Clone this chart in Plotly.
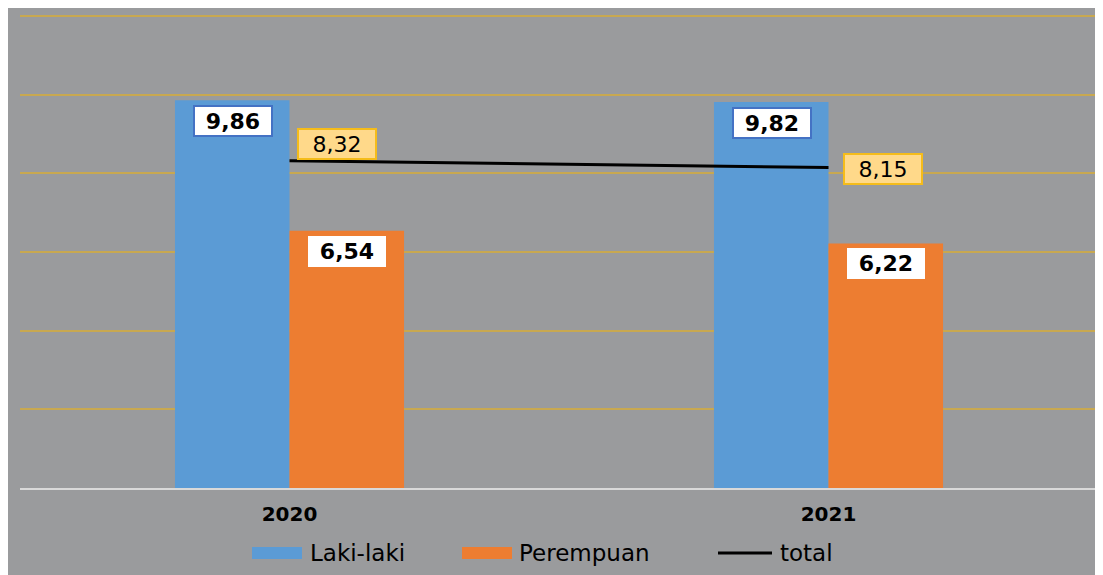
import plotly.graph_objects as go

years = ["2020", "2021"]
laki = [9.86, 9.82]
perempuan = [6.54, 6.22]
total = [8.32, 8.15]
series_names = ["Laki-laki", "Perempuan", "total"]

def fmt(v):
    return f"{v:.2f}".replace(".", ",")

BG = "#9a9b9d"
BLUE = "#5b9bd5"
ORANGE = "#ed7d31"
W, H = 1095, 567
ML, MR, MT, MB = 12, 5, 7, 87
PW, PH = W - ML - MR, H - MT - MB

fig = go.Figure()
fig.add_trace(go.Bar(name=series_names[0], x=years, y=laki, marker=dict(color=BLUE, line=dict(width=0))))
fig.add_trace(go.Bar(name=series_names[1], x=years, y=perempuan, marker=dict(color=ORANGE, line=dict(width=0))))
fig.add_trace(go.Scatter(name=series_names[2], x=years, y=total, mode="lines", line=dict(color="black", width=3)))

ann = []
bar_off = 57
for i in range(len(years)):
    ann.append(dict(x=i, y=laki[i], xref="x", yref="y", text="<b>" + fmt(laki[i]) + "</b>", showarrow=False,
                    xshift=-bar_off, yshift=-5, yanchor="top", bgcolor="white", bordercolor="#4472c4",
                    borderwidth=2, borderpad=2, width=72, height=24, font=dict(size=22, color="black")))
    ann.append(dict(x=i, y=perempuan[i], xref="x", yref="y", text="<b>" + fmt(perempuan[i]) + "</b>", showarrow=False,
                    xshift=bar_off, yshift=-5, yanchor="top", bgcolor="white", bordercolor="white",
                    borderwidth=1, borderpad=2, width=72, height=25, font=dict(size=22, color="black")))
line_shift = [(47, 17), (54, -1)]
for i in range(len(years)):
    ann.append(dict(x=i, y=total[i], xref="x", yref="y", text=fmt(total[i]), showarrow=False,
                    xshift=line_shift[i][0], yshift=line_shift[i][1], bgcolor="#ffd98a", bordercolor="#f5bc1a",
                    borderwidth=2, borderpad=2, width=72, height=24, font=dict(size=22, color="black")))

# custom legend (paper coordinates, converted from figure pixels)
def px(fx):
    return (fx - ML) / PW

def py(fy):
    return (H - MB - fy) / PH

leg_y = 545
shapes = [
    dict(type="rect", xref="paper", yref="paper", x0=px(244), x1=px(294), y0=py(leg_y + 6), y1=py(leg_y - 6),
         fillcolor=BLUE, line=dict(width=0)),
    dict(type="rect", xref="paper", yref="paper", x0=px(454), x1=px(504), y0=py(leg_y + 6), y1=py(leg_y - 6),
         fillcolor=ORANGE, line=dict(width=0)),
    dict(type="line", xref="paper", yref="paper", x0=px(710), x1=px(764), y0=py(leg_y), y1=py(leg_y),
         line=dict(color="black", width=3)),
]
for name, fx in zip(series_names, [300, 509, 770]):
    ann.append(dict(xref="paper", yref="paper", x=px(fx), y=py(leg_y), xanchor="left", yanchor="middle",
                    text=name, showarrow=False, font=dict(size=23, color="black")))

fig.update_layout(
    width=W, height=H,
    margin=dict(l=ML, r=MR, t=MT, b=MB, autoexpand=False),
    paper_bgcolor=BG, plot_bgcolor=BG,
    barmode="group", bargap=0.575, bargroupgap=0,
    font=dict(family="DejaVu Sans", color="black"),
    annotations=ann, shapes=shapes, showlegend=False,
    xaxis=dict(type="category", range=[-0.5, 1.5], tickvals=years, ticktext=["<b>" + t + "</b>" for t in years],
               showgrid=False, showline=True, linecolor="#d9d9d9", linewidth=2, ticks="outside",
               ticklen=7, tickcolor=BG, tickfont=dict(size=20, color="black")),
    yaxis=dict(range=[0, 12.03], dtick=2, showgrid=True, gridcolor="#c8a850", gridwidth=1.5, showticklabels=False,
               zeroline=False, ticks=""),
)
fig.write_html("out.html", config={"responsive": False},
               post_script="document.documentElement.style.overflow='hidden';document.body.style.overflow='hidden';")
